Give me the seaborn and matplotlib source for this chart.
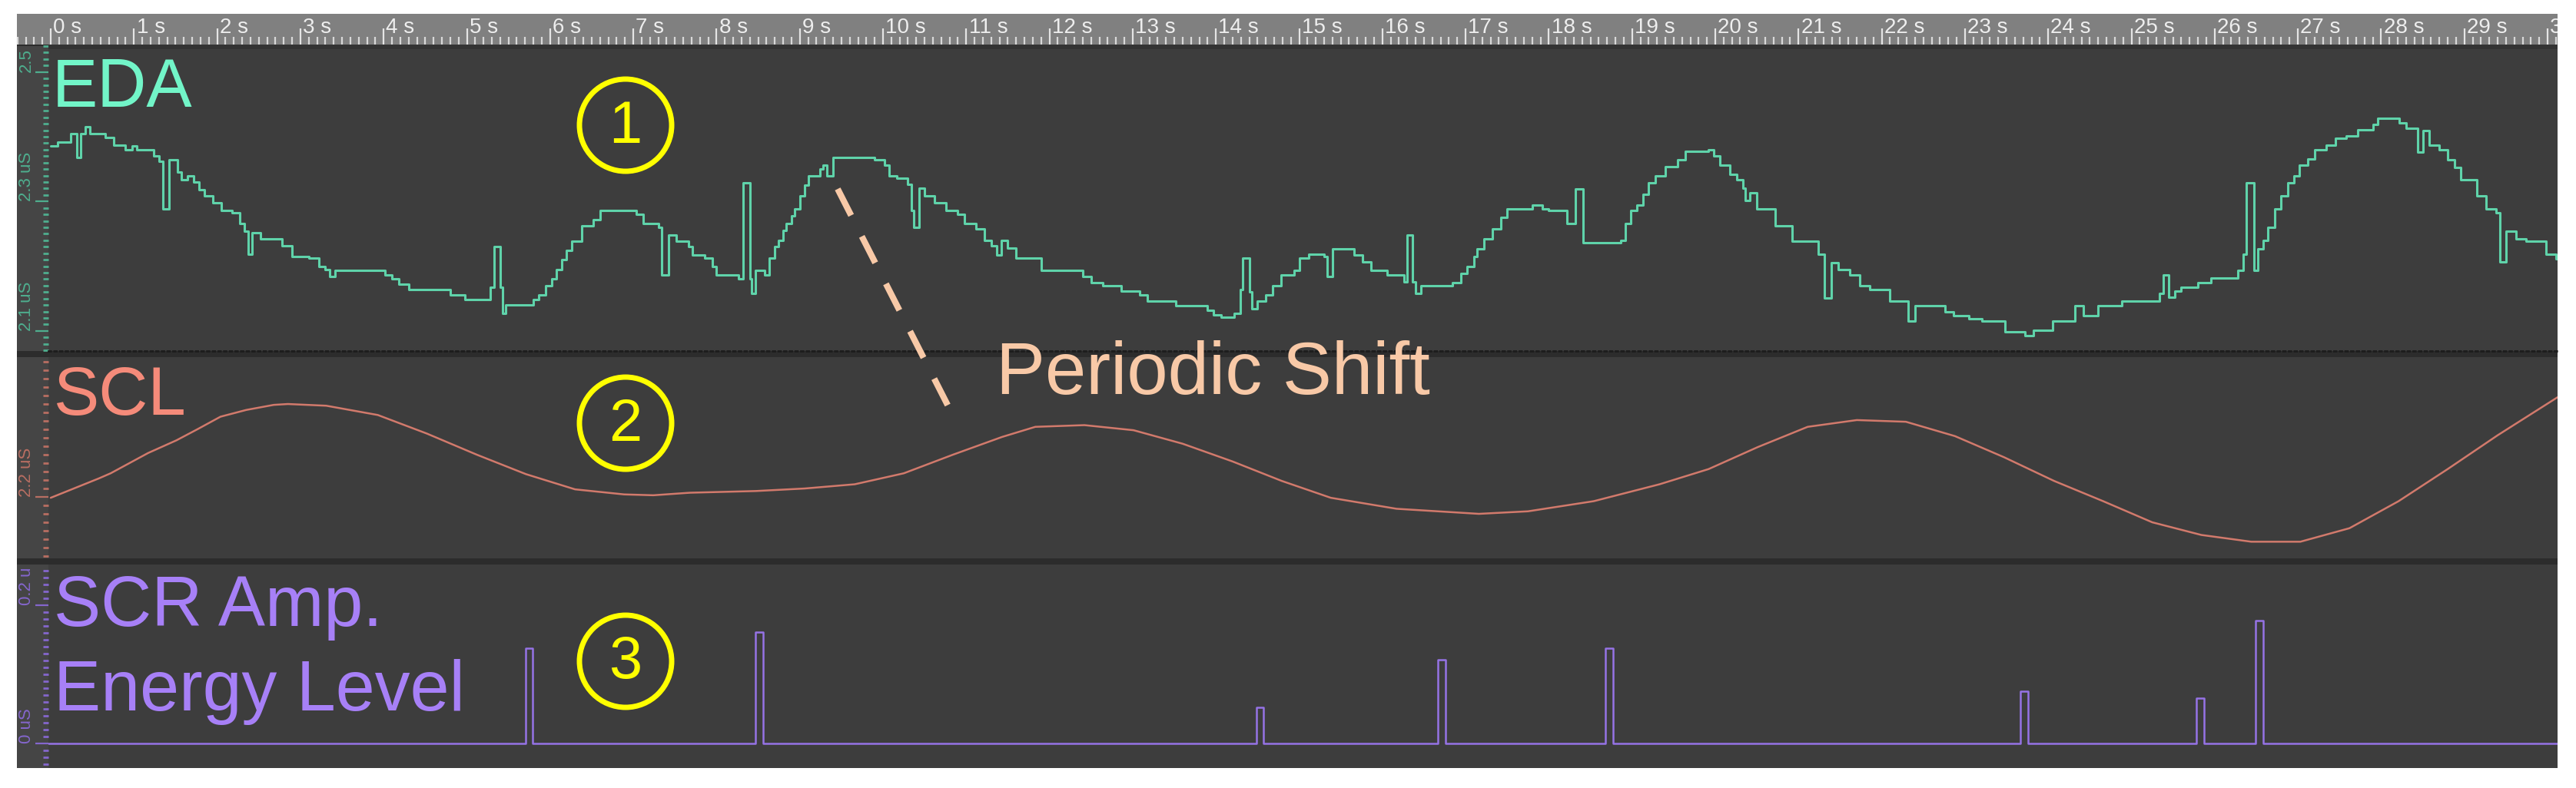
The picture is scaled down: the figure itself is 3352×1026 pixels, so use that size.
"""
EDA / SCL / SCR viewer screenshot, rebuilt as a three-lane seaborn figure.
"""

import numpy as np
import pandas as pd
import matplotlib
matplotlib.use("Agg")
import matplotlib.pyplot as plt
import seaborn as sns
from matplotlib.patches import Rectangle, Ellipse
from matplotlib.lines import Line2D
from matplotlib.ticker import FixedLocator, MultipleLocator

sns.set_style("dark")
plt.rcParams["font.family"] = ["Liberation Sans", "DejaVu Sans"]
NARROW = ["Liberation Sans Narrow", "Liberation Sans", "DejaVu Sans"]

# ---- data (seconds, microsiemens) ----
EDA_T = [0.00, 0.08, 0.24, 0.31, 0.36, 0.42, 0.47, 0.66, 0.76, 0.90, 0.98, 1.03,
         1.24, 1.30, 1.35, 1.42, 1.52, 1.57, 1.64, 1.72, 1.78, 1.85, 1.95, 2.05,
         2.18, 2.27, 2.33, 2.37, 2.42, 2.52, 2.78, 2.90, 3.10, 3.22, 3.30, 3.35,
         3.42, 4.02, 4.10, 4.18, 4.30, 4.80, 4.98, 5.28, 5.33, 5.40, 5.43, 5.47,
         5.80, 5.86, 5.95, 6.02, 6.08, 6.14, 6.20, 6.26, 6.38, 6.52, 6.60, 7.04,
         7.12, 7.30, 7.34, 7.42, 7.52, 7.66, 7.71, 7.86, 7.95, 8.00, 8.26, 8.32,
         8.40, 8.42, 8.47, 8.58, 8.63, 8.70, 8.74, 8.80, 8.84, 8.90, 8.94, 9.00,
         9.06, 9.10, 9.24, 9.28, 9.33, 9.40, 9.90, 10.02, 10.07, 10.17, 10.30,
         10.34, 10.37, 10.43, 10.50, 10.62, 10.76, 10.90, 10.98, 11.12, 11.22,
         11.30, 11.37, 11.42, 11.50, 11.60, 11.90, 12.40, 12.50, 12.64, 12.86,
         13.08, 13.18, 13.52, 13.90, 13.97, 14.06, 14.22, 14.29, 14.32, 14.40,
         14.43, 14.50, 14.60, 14.68, 14.78, 14.94, 15.00, 15.12, 15.30, 15.34,
         15.40, 15.66, 15.76, 15.86, 16.06, 16.26, 16.30, 16.36, 16.40, 16.46,
         16.84, 16.94, 17.02, 17.10, 17.14, 17.22, 17.32, 17.42, 17.50, 17.80,
         17.92, 18.00, 18.22, 18.32, 18.41, 18.86, 18.92, 18.98, 19.06, 19.13,
         19.20, 19.28, 19.40, 19.55, 19.64, 19.92, 19.98, 20.06, 20.18, 20.26,
         20.33, 20.36, 20.42, 20.50, 20.72, 20.92, 21.24, 21.31, 21.39, 21.48,
         21.62, 21.74, 21.86, 22.10, 22.32, 22.40, 22.76, 22.86, 23.05, 23.20,
         23.48, 23.72, 23.82, 24.05, 24.32, 24.42, 24.60, 24.88, 25.34, 25.38,
         25.45, 25.52, 25.60, 25.80, 25.96, 26.28, 26.34, 26.38, 26.47, 26.52,
         26.58, 26.64, 26.72, 26.80, 26.88, 26.95, 27.02, 27.12, 27.20, 27.34,
         27.45, 27.58, 27.72, 27.90, 27.96, 28.22, 28.30, 28.44, 28.50, 28.58,
         28.70, 28.80, 28.88, 28.96, 29.15, 29.26, 29.38, 29.43, 29.50, 29.62,
         29.74, 29.98, 30.10, 30.20]
EDA_V = [2.386, 2.392, 2.405, 2.368, 2.405, 2.415, 2.405, 2.399, 2.387, 2.380, 2.386, 2.380,
         2.370, 2.362, 2.289, 2.364, 2.345, 2.333, 2.340, 2.330, 2.318, 2.309, 2.298, 2.286,
         2.282, 2.266, 2.254, 2.219, 2.252, 2.242, 2.231, 2.215, 2.213, 2.200, 2.195, 2.184,
         2.193, 2.187, 2.180, 2.172, 2.164, 2.156, 2.148, 2.168, 2.230, 2.168, 2.127, 2.140,
         2.148, 2.156, 2.170, 2.180, 2.195, 2.210, 2.225, 2.239, 2.262, 2.272, 2.286, 2.280,
         2.266, 2.260, 2.186, 2.248, 2.239, 2.230, 2.217, 2.213, 2.199, 2.186, 2.180, 2.329,
         2.180, 2.158, 2.193, 2.186, 2.213, 2.230, 2.240, 2.255, 2.266, 2.278, 2.289, 2.309,
         2.325, 2.339, 2.350, 2.356, 2.339, 2.368, 2.364, 2.356, 2.340, 2.336, 2.327,
         2.286, 2.260, 2.321, 2.309, 2.298, 2.286, 2.280, 2.266, 2.258, 2.240,
         2.232, 2.217, 2.240, 2.228, 2.213, 2.193, 2.184, 2.174, 2.170, 2.162,
         2.156, 2.146, 2.139, 2.132, 2.125, 2.121, 2.127, 2.164, 2.213, 2.160,
         2.134, 2.146, 2.156, 2.170, 2.187, 2.193, 2.213, 2.219, 2.215, 2.184,
         2.227, 2.217, 2.207, 2.193, 2.186, 2.176, 2.248, 2.176, 2.158, 2.170,
         2.175, 2.189, 2.199, 2.215, 2.227, 2.242, 2.258, 2.276, 2.289, 2.295,
         2.289, 2.286, 2.266, 2.319, 2.236, 2.240, 2.266, 2.286, 2.295, 2.311,
         2.329, 2.339, 2.354, 2.364, 2.378, 2.380, 2.370, 2.356, 2.342, 2.333,
         2.321, 2.301, 2.313, 2.289, 2.262, 2.239, 2.219, 2.151, 2.205, 2.195,
         2.186, 2.170, 2.164, 2.146, 2.115, 2.139, 2.130, 2.123, 2.119, 2.115,
         2.099, 2.093, 2.101, 2.115, 2.139, 2.123, 2.139, 2.146, 2.158, 2.186,
         2.152, 2.162, 2.168, 2.174, 2.182, 2.193, 2.219, 2.329, 2.193, 2.227,
         2.240, 2.260, 2.289, 2.309, 2.329, 2.340, 2.356, 2.366, 2.380, 2.387,
         2.398, 2.401, 2.411, 2.419, 2.429, 2.421, 2.413, 2.376, 2.410, 2.387,
         2.380, 2.364, 2.352, 2.333, 2.309, 2.289, 2.282, 2.207, 2.254, 2.242,
         2.239, 2.219, 2.211, 2.203]

SCL_T = [0.00, 0.58, 0.72, 1.17, 1.51, 1.76, 2.04, 2.35, 2.68, 2.85, 3.31, 3.93,
         4.52, 5.12, 5.71, 6.30, 6.89, 7.24, 7.68, 8.47, 9.06, 9.66, 10.25, 10.84,
         11.43, 11.83, 12.42, 13.01, 13.60, 14.20, 14.79, 15.38, 16.17, 17.16,
         17.75, 18.54, 19.33, 19.92, 20.51, 21.11, 21.70, 22.29, 22.88, 23.47,
         24.07, 24.66, 25.25, 25.84, 26.44, 27.03, 27.62, 28.21, 28.80, 29.40, 30.12]
SCL_V = [2.199, 2.222, 2.228, 2.252, 2.267, 2.280, 2.295, 2.303, 2.309, 2.310, 2.308, 2.297,
         2.275, 2.250, 2.227, 2.209, 2.203, 2.202, 2.205, 2.207, 2.210, 2.215, 2.228, 2.250,
         2.271, 2.283, 2.285, 2.279, 2.263, 2.242, 2.219, 2.199, 2.186, 2.180,
         2.183, 2.195, 2.215, 2.233, 2.259, 2.283, 2.291, 2.289, 2.272, 2.247,
         2.219, 2.195, 2.170, 2.155, 2.147, 2.147, 2.163, 2.195, 2.233, 2.273, 2.318]

SCR_ONSET = [5.71, 8.47, 14.49, 16.67, 18.68, 23.67, 25.78, 26.49]
SCR_AMP = [0.138, 0.161, 0.052, 0.121, 0.138, 0.076, 0.066, 0.178]
SCR_WIDTH = [0.08, 0.09, 0.08, 0.09, 0.09, 0.09, 0.09, 0.09]

RULER_SECONDS = list(range(0, 31))

# ---- layout (screen pixels of the original capture) ----
W, H = 3352, 1026
PX_PER_S = 108.3
T_ZERO_X = 66
LEFT, STRIP, RIGHT = 22, 63, 3328
T_MIN = (STRIP - T_ZERO_X) / PX_PER_S
T_MAX = (RIGHT - T_ZERO_X) / PX_PER_S

PANEL_BG = "#3d3d3d"
GAP_BG = "#2c2c2c"
STRIP_BG = "#454545"
EDA_C, EDA_TXT, EDA_AX = "#5fd3aa", "#72f5c8", "#4fae8e"
SCL_C, SCL_TXT, SCL_AX = "#d27a6c", "#f58b7a", "#b86e62"
SCR_C, SCR_TXT, SCR_AX = "#9673e6", "#a780f7", "#8466cc"
YELLOW = "#ffff00"
PEACH = "#f8c9a7"


def fx(x):
    return x / W


def fy(y):
    return 1 - y / H


def add_ax(fig, x0, y0, x1, y1):
    return fig.add_axes([fx(x0), fy(y1), (x1 - x0) / W, (y1 - y0) / H])


def lane(fig, y0, y1, ylim, color, majors, labels):
    fig.add_artist(Rectangle((fx(LEFT), fy(y1)), (STRIP - LEFT) / W, (y1 - y0) / H,
                             transform=fig.transFigure, facecolor=STRIP_BG,
                             edgecolor="none", zorder=-0.5))
    ax = add_ax(fig, STRIP, y0, RIGHT, y1)
    ax.set_facecolor(PANEL_BG)
    ax.set_xlim(T_MIN, T_MAX)
    ax.set_ylim(*ylim)
    for s in ax.spines.values():
        s.set_visible(False)
    ax.set_xticks([])
    ax.yaxis.set_major_locator(FixedLocator(majors))
    ax.yaxis.set_minor_locator(MultipleLocator(0.01))
    ax.set_yticklabels(labels)
    ax.tick_params(axis="y", which="major", left=True, direction="out", length=12,
                   width=1.6, color=color, pad=1, labelsize=16, labelcolor=color,
                   labelrotation=90)
    ax.tick_params(axis="y", which="minor", left=True, direction="out", length=5,
                   width=2.0, color=color)
    for lab in ax.get_yticklabels():
        lab.set_va("bottom")
        lab.set_family(NARROW)
    ax.grid(False)
    return ax


def main():
    fig = plt.figure(figsize=(W / 100, H / 100), dpi=100, facecolor="white")
    fig.add_artist(Rectangle((fx(LEFT), fy(1000)), (RIGHT - LEFT) / W, (1000 - 18) / H,
                             transform=fig.transFigure, facecolor=GAP_BG,
                             edgecolor="none", zorder=-1))

    # time ruler
    rul = add_ax(fig, LEFT, 18, RIGHT, 58)
    rul.set_facecolor("#808080")
    rul.set_xlim((LEFT - T_ZERO_X) / PX_PER_S, T_MAX)
    rul.set_ylim(0, 1)
    for s in rul.spines.values():
        s.set_visible(False)
    rul.set_yticks([])
    rul.xaxis.set_major_locator(FixedLocator(RULER_SECONDS))
    rul.xaxis.set_minor_locator(MultipleLocator(0.1))
    rul.tick_params(axis="x", which="major", bottom=True, direction="in", length=15,
                    width=1.6, color="#e4e4e4", labelbottom=False)
    rul.tick_params(axis="x", which="minor", bottom=True, direction="in", length=7,
                    width=1.6, color="#d8d8d8")
    for sec in RULER_SECONDS:
        rul.text(sec + 0.03, 0.38, f"{sec} s", color="#eeeeee", fontsize=20,
                 family=NARROW, ha="left", va="baseline", clip_on=True)

    # lane 1: raw EDA
    ax1 = lane(fig, 60, 457, (2.069, 2.540), EDA_AX, [2.1, 2.3, 2.5],
               ["2.1 uS", "2.3 uS", "2.5"])
    eda = pd.DataFrame({"t": EDA_T, "v": EDA_V})
    sns.lineplot(data=eda, x="t", y="v", ax=ax1, color=EDA_C, lw=2.2,
                 drawstyle="steps-post", estimator=None, sort=False)
    ax1.spines["bottom"].set_visible(True)
    ax1.spines["bottom"].set_color("#1c1c1c")
    ax1.spines["bottom"].set_linestyle(":")
    ax1.spines["bottom"].set_linewidth(2.0)
    ax1.set_xlabel("")
    ax1.set_ylabel("")

    # lane 2: tonic level
    ax2 = lane(fig, 465, 727, (2.1273, 2.3655), SCL_AX, [2.2], ["2.2 uS"])
    scl = pd.DataFrame({"t": SCL_T, "v": SCL_V})
    sns.lineplot(data=scl, x="t", y="v", ax=ax2, color=SCL_C, lw=1.8,
                 estimator=None, sort=False)
    ax2.set_xlabel("")
    ax2.set_ylabel("")

    # lane 3: phasic responses as rectangular pulses
    ax3 = lane(fig, 735, 1000, (-0.0356, 0.259), SCR_AX, [0.0, 0.2], ["0 uS", "0.2 u"])
    rows = [(T_MIN, 0.0)]
    for on, amp, w in zip(SCR_ONSET, SCR_AMP, SCR_WIDTH):
        rows += [(on, amp), (on + w, 0.0)]
    rows.append((T_MAX, 0.0))
    scr = pd.DataFrame(rows, columns=["t", "v"])
    sns.lineplot(data=scr, x="t", y="v", ax=ax3, color=SCR_C, lw=1.8,
                 drawstyle="steps-post", estimator=None, sort=False)
    ax3.set_xlabel("")
    ax3.set_ylabel("")

    # shadow under the ruler
    fig.add_artist(Rectangle((fx(STRIP), fy(64)), (RIGHT - STRIP) / W, 6 / H,
                             transform=fig.transFigure, facecolor="#333333",
                             edgecolor="none", zorder=4))

    # lane titles
    fig.text(fx(68), fy(139), "EDA", color=EDA_TXT, fontsize=64, va="baseline", ha="left")
    fig.text(fx(70), fy(540), "SCL", color=SCL_TXT, fontsize=64, va="baseline", ha="left")
    fig.text(fx(70), fy(815), "SCR Amp.", color=SCR_TXT, fontsize=66, va="baseline", ha="left")
    fig.text(fx(70), fy(925), "Energy Level", color=SCR_TXT, fontsize=66,
             va="baseline", ha="left")

    # numbered markers
    for label, cy in zip(["1", "2", "3"], [163, 551, 861]):
        fig.add_artist(Ellipse((fx(814), fy(cy)), 120 / W, 120 / H,
                               transform=fig.transFigure, fill=False,
                               edgecolor=YELLOW, lw=5, zorder=5))
        fig.text(fx(814), fy(cy + 2), label, color=YELLOW, fontsize=56,
                 ha="center", va="center", zorder=6)

    # periodic shift callout
    fig.add_artist(Line2D([fx(1090), fx(1238)], [fy(246), fy(537)],
                          transform=fig.transFigure, color=PEACH, lw=5.8,
                          dashes=(4.8, 3.8), solid_capstyle="butt", zorder=5))
    fig.text(fx(1296), fy(513), "Periodic Shift", color=PEACH, fontsize=69,
             va="baseline", ha="left", zorder=6)

    fig.savefig("out.png", dpi=100, facecolor="white")
    plt.close(fig)


if __name__ == "__main__":
    main()
